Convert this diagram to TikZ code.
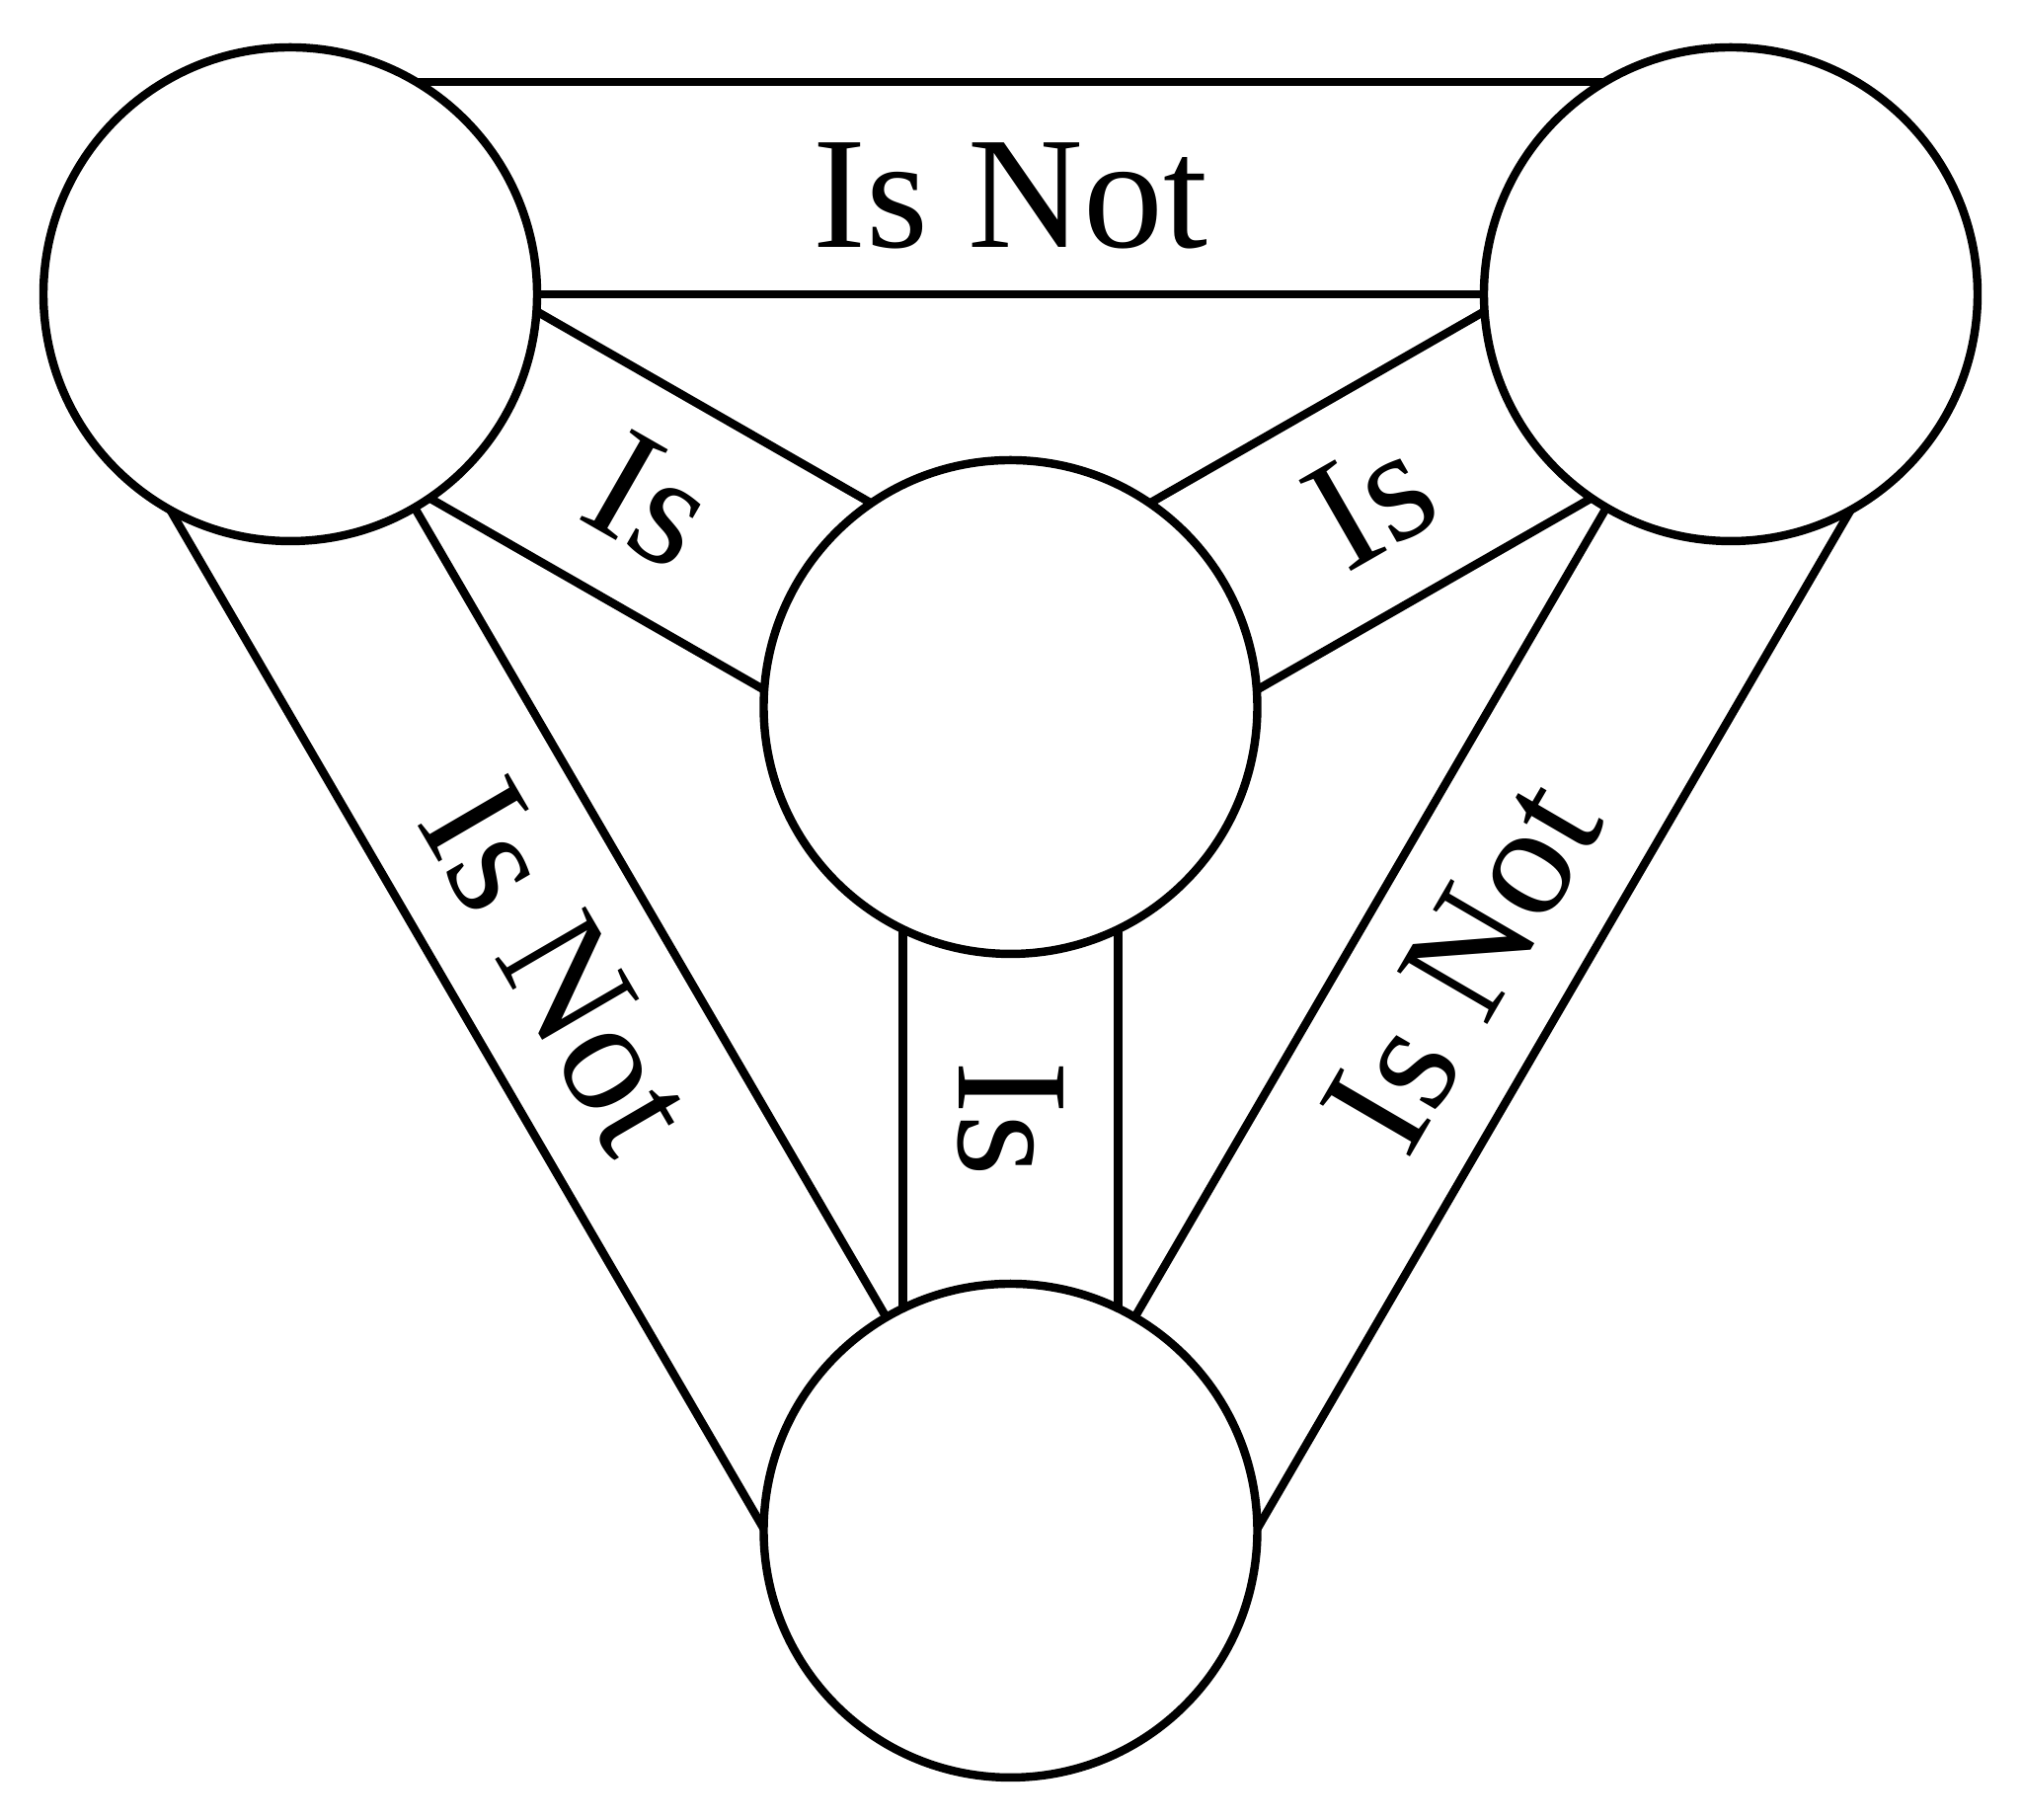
\documentclass[tikz,border=0pt]{standalone}
\usepackage{fontspec}
\setmainfont{Liberation Serif}
\usetikzlibrary{calc,backgrounds}

\begin{document}
\begin{tikzpicture}[line width=2.4pt,ring/.style={circle,draw,fill=white,minimum size=5cm,inner sep=0pt}]
	\useasboundingbox (0,0) rectangle (20.48,18.43);
	\node[ring]          (tl)  at (2.94,15.45)    {};
	\node[ring]          (tr)  at (17.53,15.45)   {};
	\node[ring]          (m)   at (10.235,11.27)  {};
	\node[ring]          (bot) at (10.235,2.93)   {};

	\tikzset{band/.style={draw,line width=2.4pt}}
	\tikzset{lbl/.style={font=\fontsize{46}{50}\selectfont,inner sep=0pt}}
	\begin{scope}[on background layer]
		% outer bands
		\draw[band] (tl.center) -- (tr.center);
		\draw[band] ($(tl)!2.15cm!90:(tr)$) -- ($(tr)!2.15cm!-90:(tl)$);
		\draw[band] (tl.center) -- (bot.center);
		\draw[band] ($(tl)!2.15cm!-90:(bot)$) -- ($(bot)!2.15cm!90:(tl)$);
		\draw[band] (bot.center) -- (tr.center);
		\draw[band] ($(bot)!2.15cm!-90:(tr)$) -- ($(tr)!2.15cm!90:(bot)$);
		% inner bands
		\draw[band] ($(tl)!1.09cm!90:(m)$) -- ($(m)!1.09cm!-90:(tl)$);
		\draw[band] ($(tl)!1.09cm!-90:(m)$) -- ($(m)!1.09cm!90:(tl)$);
		\draw[band] ($(m)!1.09cm!90:(tr)$) -- ($(tr)!1.09cm!-90:(m)$);
		\draw[band] ($(m)!1.09cm!-90:(tr)$) -- ($(tr)!1.09cm!90:(m)$);
		\draw[band] ($(m)!1.09cm!90:(bot)$) -- ($(bot)!1.09cm!-90:(m)$);
		\draw[band] ($(m)!1.09cm!-90:(bot)$) -- ($(bot)!1.09cm!90:(m)$);
	\end{scope}

	\path ($(tl)!1cm!90:(tr)$) -- ($(tr)!1cm!-90:(tl)$) node[lbl,midway] {Is Not};
	\path ($(tl)!1.075cm!-90:(bot)$) -- ($(bot)!1.075cm!90:(tl)$) node[lbl,midway,sloped] {Is Not};
	\path ($(bot)!1.075cm!-90:(tr)$) -- ($(tr)!1.075cm!90:(bot)$) node[lbl,midway,sloped] {Is Not};
	\path (tl) -- (m) node[lbl,midway,sloped] {Is};
	\path (m) -- (tr) node[lbl,midway,sloped] {Is};
	\path (m) -- (bot) node[lbl,midway,rotate=-90] {Is};
\end{tikzpicture}
\end{document}
